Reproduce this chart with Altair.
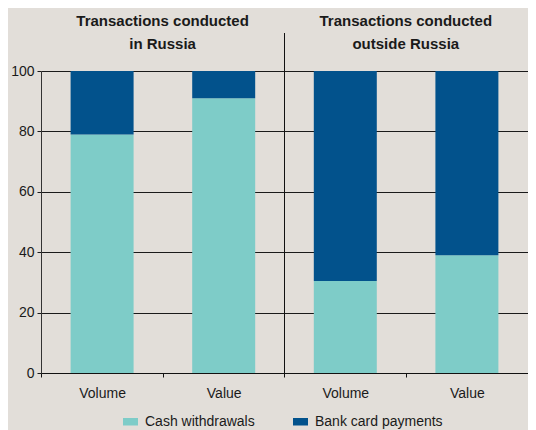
import altair as alt
import pandas as pd

# ---- data ----
keys = ["ru_volume", "ru_value", "out_volume", "out_value"]
x_labels = ["Volume", "Value", "Volume", "Value"]
cash_withdrawals = [79, 91, 30.5, 39]
card_payments = [21, 9, 69.5, 61]
series = ["Cash withdrawals", "Bank card payments"]
colors = ["#7ECCC8", "#02528C"]
panel_titles = [["Transactions conducted", "in Russia"],
                ["Transactions conducted", "outside Russia"]]
y_ticks = [0, 20, 40, 60, 80, 100]

FONT = "Liberation Sans, Arial, sans-serif"
TXT = "#1a1a1a"
BG = "#E2DED9"

rows = []
for k, c, b in zip(keys, cash_withdrawals, card_payments):
    rows.append({"key": k, "series": series[0], "value": c, "order": 0})
    rows.append({"key": k, "series": series[1], "value": b, "order": 1})
df = pd.DataFrame(rows)

label_expr = " : ".join(
    f"datum.value == '{k}' ? '{l}'" for k, l in zip(keys, x_labels)
) + " : ''"

bars = alt.Chart(df).mark_bar().encode(
    x=alt.X(
        "key:N",
        sort=keys,
        scale=alt.Scale(domain=keys, paddingInner=0.482, paddingOuter=0.2435),
        axis=alt.Axis(
            title=None, labelExpr=label_expr, labelAngle=0, grid=False,
            bandPosition=0, tickOffset=-29.6, labelOffset=29.6,
            domainColor="#111111", tickColor="#111111", tickSize=4,
            labelPadding=9, labelFontSize=14, labelFont=FONT, labelColor=TXT,
        ),
    ),
    y=alt.Y(
        "value:Q",
        stack="zero",
        scale=alt.Scale(domain=[0, 100], nice=False),
        axis=alt.Axis(
            title=None, values=y_ticks, grid=True, gridColor="#1a1a1a",
            gridWidth=1, gridOpacity=1, domainColor="#333333",
            tickColor="#1a1a1a", tickSize=4, labelPadding=3,
            labelFontSize=14, labelFont=FONT, labelColor=TXT,
        ),
    ),
    color=alt.Color(
        "series:N",
        scale=alt.Scale(domain=series, range=colors),
        legend=alt.Legend(
            title=None, orient="none", legendX=82, legendY=343,
            direction="horizontal", symbolType="M-1,-0.5H1V0.5H-1Z",
            symbolSize=225, symbolStrokeWidth=0, symbolOpacity=1,
            labelFontSize=14, labelFont=FONT, labelColor=TXT,
            labelOffset=7, columnPadding=38, padding=0,
        ),
    ),
    order=alt.Order("order:Q"),
)

one = pd.DataFrame({"a": [0]})

divider = alt.Chart(one).mark_rule(color="#111111", strokeWidth=1).encode(
    x=alt.value(243.5), y=alt.value(-38), y2=alt.value(304)
)

title_left = alt.Chart(one).mark_text(
    text=panel_titles[0], font=FONT, fontSize=15, fontWeight="bold",
    align="center", baseline="top", lineHeight=23, color=TXT,
).encode(x=alt.value(121.6), y=alt.value(-57))

title_right = alt.Chart(one).mark_text(
    text=panel_titles[1], font=FONT, fontSize=15, fontWeight="bold",
    align="center", baseline="top", lineHeight=23, color=TXT,
).encode(x=alt.value(364.8), y=alt.value(-57))

chart = alt.layer(bars, divider, title_left, title_right).properties(
    width=487,
    height=302,
    padding={"left": 33, "top": 63, "right": 0, "bottom": 57},
    autosize=alt.AutoSizeParams(type="none"),
    background=BG,
).configure_view(stroke=None)

chart.save("out.html", embed_options={"renderer": "svg", "actions": False})
